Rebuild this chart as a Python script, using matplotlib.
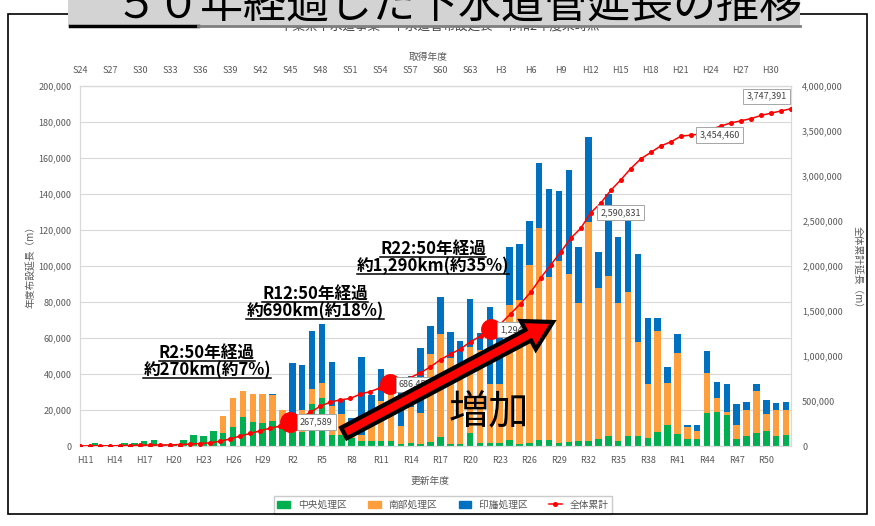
import matplotlib
matplotlib.use("Agg")
import matplotlib.pyplot as plt
from matplotlib.patches import Rectangle, FancyArrow, Patch
from matplotlib.lines import Line2D

plt.rcParams["font.family"] = ["Noto Sans CJK JP", "DejaVu Sans"]

# --- data (m), one value per 更新年度 H11 .. R52 ---
update_labels = ["H11", "H14", "H17", "H20", "H23", "H26", "H29", "R2", "R5", "R8",
                 "R11", "R14", "R17", "R20", "R23", "R26", "R29", "R32", "R35", "R38",
                 "R41", "R44", "R47", "R50"]
acq_labels = ["S24", "S27", "S30", "S33", "S36", "S39", "S42", "S45", "S48", "S51",
              "S54", "S57", "S60", "S63", "H3", "H6", "H9", "H12", "H15", "H18",
              "H21", "H24", "H27", "H30"]

central = [0, 1600, 300, 300, 1600, 1600, 2600, 3200, 300, 1000,
           3600, 6000, 5600, 8400, 7200, 10300, 16100, 13300, 13000, 13900,
           10600, 7800, 7800, 23100, 26700, 6000, 6000, 4300, 3000, 2800,
           2800, 2800, 1300, 1500, 1300, 2200, 5000, 1300, 1000, 7200,
           1700, 1700, 1500, 3500, 1300, 1700, 3100, 3100, 1700, 2200,
           2600, 2600, 3700, 5400, 2800, 5400, 5600, 4400, 7800, 11500,
           6900, 4100, 4100, 18300, 18900, 17000, 4100, 5600, 7400, 8200,
           5600, 5900]
south = [0, 0, 0, 0, 0, 0, 0, 0, 0, 0,
         0, 0, 0, 0, 9300, 16300, 14500, 15400, 16100, 14400,
         9200, 6500, 12000, 8600, 8300, 16000, 11600, 6500, 3000, 15000,
         22200, 27000, 9700, 20000, 17000, 49100, 57400, 47800, 43000, 47800,
         51500, 32600, 33200, 74700, 79700, 98700, 118100, 90900, 101100, 93600,
         77100, 121600, 84100, 89100, 76900, 80200, 52200, 29900, 56100, 23500,
         45000, 6500, 4100, 22300, 8000, 1900, 7400, 14200, 23200, 9800,
         14200, 13900]
inba = [0, 0, 0, 0, 0, 0, 0, 0, 0, 0,
        0, 0, 0, 0, 0, 0, 0, 0, 0, 400,
        400, 31800, 25200, 32200, 33000, 24900, 7800, 4900, 43500, 10400,
        17800, 9200, 26000, 17400, 36400, 15400, 20400, 14300, 14400, 26500,
        9600, 43000, 27300, 32100, 31500, 24500, 36300, 48900, 38800, 57800,
        30600, 47400, 19900, 45400, 36500, 39300, 49100, 36900, 7300, 8900,
        10200, 900, 3300, 12200, 8700, 15800, 11700, 4700, 3700, 7800,
        4300, 4700]
cumulative = [0, 1600, 1900, 2200, 3800, 5400, 8000, 11200, 11500, 12500,
              16100, 22100, 27700, 36100, 52600, 79500, 110500, 139600, 169400, 198700,
              220000, 267589, 311500, 374800, 442000, 488200, 513200, 528700, 577500, 605300,
              647600, 686457, 722400, 760400, 813900, 878900, 959900, 1021900, 1078900, 1158900,
              1219900, 1294856, 1357900, 1468900, 1582400, 1708400, 1866900, 2010900, 2153400, 2307900,
              2418900, 2590831, 2699300, 2840000, 2957000, 3082700, 3190400, 3262400, 3334400, 3379100,
              3442000, 3454460, 3466100, 3519100, 3554900, 3589800, 3613200, 3637900, 3672400, 3698400,
              3722700, 3747391]

labelled = [21, 31, 41, 51, 61, 71]
label_offsets = [(7, 0), (6, 0), (7, 0), (7, 0), (6, 0), (-3, 9)]
milestones = [21, 31, 41]
notes = [("R2:50年経過", "約270km(約7%)", 207, 353),
         ("R12:50年経過", "約690km(約18%)", 315, 294),
         ("R22:50年経過", "約1,290km(約35%)", 433, 249)]

GREEN, ORANGE, BLUE, RED = "#00b050", "#ff9e3d", "#0070c0", "#ff0000"
GRAY = "#595959"

n = len(central)
x = list(range(n))
# the line sits on the secondary (取得年度) axis, plotted "on tick marks"
xl = [-0.5 + i * n / (n - 1) for i in range(n)]

fig = plt.figure(figsize=(8.75, 5.26), dpi=100)
W, H = 875, 526
ax = fig.add_axes([80 / W, 1 - 446 / H, 711 / W, 360 / H])

bottom2 = [a + b for a, b in zip(central, south)]
ax.bar(x, central, 0.66, color=GREEN, zorder=2)
ax.bar(x, south, 0.66, bottom=central, color=ORANGE, zorder=2)
ax.bar(x, inba, 0.66, bottom=bottom2, color=BLUE, zorder=2)

ax.set_xlim(-0.5, n - 0.5)
ax.set_ylim(0, 200000)
ax.set_yticks(range(0, 200001, 20000))
ax.set_yticklabels([f"{v:,}" for v in range(0, 200001, 20000)])
ax.set_xticks(x[::3])
ax.set_xticklabels(update_labels)
ax.grid(axis="y", color="#d9d9d9", lw=0.8, zorder=0)
ax.set_axisbelow(True)
ax.tick_params(axis="both", length=0, labelsize=6.5, colors=GRAY, pad=6)
ax.tick_params(axis="x", pad=7)
for s in ax.spines.values():
    s.set_color("#d9d9d9")

top = ax.secondary_xaxis("top")
top.set_xticks(xl[::3])
top.set_xticklabels(acq_labels)
top.tick_params(length=0, labelsize=6.5, colors=GRAY, pad=8)
top.spines["top"].set_color("#d9d9d9")

ax2 = ax.twinx()
ax2.plot(xl, cumulative, color=RED, lw=1.1, marker="o", ms=2.6, zorder=3)
ax2.set_ylim(0, 4000000)
ax2.set_yticks(range(0, 4000001, 500000))
ax2.set_yticklabels([f"{v:,}" for v in range(0, 4000001, 500000)])
ax2.tick_params(axis="y", length=0, labelsize=6.5, colors=GRAY, pad=8)
for s in ax2.spines.values():
    s.set_color("#d9d9d9")
ax2.set_xlim(-0.5, n - 0.5)

for k in milestones:
    ax2.plot(xl[k], cumulative[k], "o", color=RED, ms=14, zorder=4)
for k, (dx, dy) in zip(labelled, label_offsets):
    ax2.annotate(f"{cumulative[k]:,}", (xl[k], cumulative[k]), xytext=(dx, dy),
                 textcoords="offset points", ha="left" if dx > 0 else "right",
                 va="center", fontsize=6.5, color="#404040", zorder=5,
                 bbox=dict(boxstyle="square,pad=0.35", fc="white", ec="#a6a6a6", lw=0.7))

fig.text(30 / W, 1 - 265 / H, "年度布設延長（m）", rotation=90, ha="center", va="center",
         fontsize=7, color=GRAY)
fig.text(858 / W, 1 - 270 / H, "全体累計延長（m）", rotation=-90, ha="center", va="center",
         fontsize=7, color=GRAY)
fig.text(430 / W, 1 - 481 / H, "更新年度", ha="center", va="center", fontsize=7, color=GRAY)
fig.text(428 / W, 1 - 57 / H, "取得年度", ha="center", va="center", fontsize=7, color=GRAY)

handles = [Patch(color=GREEN), Patch(color=ORANGE), Patch(color=BLUE),
           Line2D([], [], color=RED, lw=1.1, marker="o", ms=2.6)]
fig.legend(handles, ["中央処理区", "南部処理区", "印旛処理区", "全体累計"], loc="center",
           bbox_to_anchor=(443 / W, 1 - 505 / H), ncol=4, fontsize=7, frameon=True,
           fancybox=False, edgecolor="#bfbfbf", handlelength=1.3, handleheight=0.8,
           columnspacing=2.2, borderpad=0.4, labelcolor=GRAY)

# overlay in pixel coordinates for the slide decorations
ov = fig.add_axes([0, 0, 1, 1], zorder=10)
ov.set_xlim(0, W)
ov.set_ylim(H, 0)
ov.axis("off")
ov.patch.set_alpha(0)

ov.add_patch(Rectangle((8, 14), 859, 500, fill=False, ec="black", lw=1.2, zorder=0))
ov.text(440, 27, "千葉県下水道事業　下水道管布設延長　令和2年度末時点", ha="center",
        va="center", fontsize=9, color="#404040", zorder=1)
ov.add_patch(Rectangle((68, -5), 732, 31, fc="#d3d3d3", ec="none", zorder=2))
ov.plot([70, 198], [26, 26], color="black", lw=2.5, zorder=3)
ov.plot([198, 800], [26, 26], color="#7f7f7f", lw=2, zorder=3)
ov.text(458, 19, "５０年経過した下水道管延長の推移", ha="center", va="baseline",
        fontsize=31, color="black", zorder=4)

ov.add_patch(FancyArrow(344, 433, 209, -111, width=12, head_width=32, head_length=28,
                        length_includes_head=True, fc=RED, ec="black", lw=3, zorder=5))
ov.text(489, 413, "増加", ha="center", va="center", fontsize=29, color="black", zorder=6)

texts = []
for line1, line2, cx, cy in notes:
    for s, yy in ((line1, cy), (line2, cy + 17)):
        t = ov.text(cx, yy, s, ha="center", va="center", fontsize=12, fontweight="bold",
                    color="black", zorder=6)
        texts.append(t)

fig.canvas.draw()
r = fig.canvas.get_renderer()
inv = ov.transData.inverted()
for t in texts:
    bb = t.get_window_extent(r)
    (x0, y0), (x1, _) = inv.transform([(bb.x0, bb.y0), (bb.x1, bb.y0)])
    ov.plot([x0, x1], [y0 - 1, y0 - 1], color="black", lw=1.1, zorder=6)

fig.savefig("out.png", dpi=100)
